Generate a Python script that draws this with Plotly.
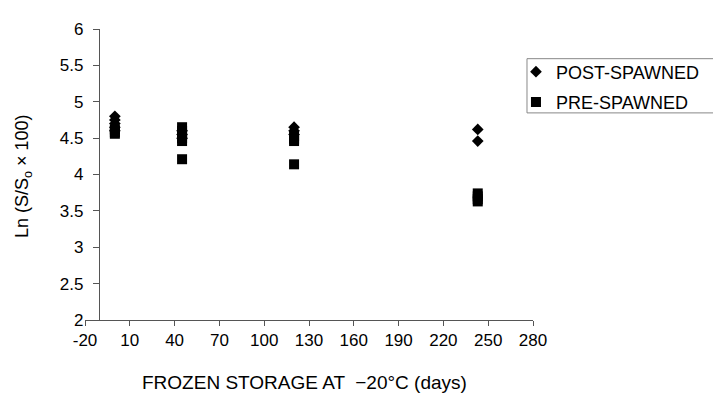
import plotly.graph_objects as go

# Data
post_days = [0, 0, 0, 0, 0, 45, 45, 45, 120, 120, 120, 243, 243]
post_vals = [4.80, 4.75, 4.70, 4.65, 4.60, 4.60, 4.55, 4.50, 4.65, 4.60, 4.55, 4.62, 4.46]

pre_days = [0, 0, 0, 45, 45, 45, 45, 45, 45, 120, 120, 120, 120, 243, 243, 243, 243]
pre_vals = [4.62, 4.58, 4.56, 4.65, 4.60, 4.55, 4.50, 4.46, 4.21, 4.53, 4.49, 4.46, 4.14, 3.74, 3.70, 3.66, 3.63]

x_ticks = [-20, 10, 40, 70, 100, 130, 160, 190, 220, 250, 280]
y_ticks = [2, 2.5, 3, 3.5, 4, 4.5, 5, 5.5, 6]

x_title = "FROZEN STORAGE AT  \u221220\u00b0C (days)"
y_title = "Ln (S/S<sub>o</sub> \u00d7 100)"

FONT = "Arial, Liberation Sans, Helvetica, sans-serif"
AXIS = "#555555"

fig = go.Figure()
fig.add_trace(go.Scatter(
    x=post_days, y=post_vals, mode="markers", name="POST-SPAWNED",
    marker=dict(symbol="diamond", size=9, color="black", line=dict(width=0)),
    legendgroup="a",
))
fig.add_trace(go.Scatter(
    x=pre_days, y=pre_vals, mode="markers", name="PRE-SPAWNED",
    marker=dict(symbol="square", size=10, color="black", line=dict(width=0)),
    legendgroup="b",
))

fig.update_layout(
    width=721, height=393,
    margin=dict(l=77, r=196, t=12, b=81),
    paper_bgcolor="white", plot_bgcolor="white",
    font=dict(family=FONT, color="black", size=17),
    showlegend=True,
    legend=dict(
        x=0.962, y=0.916, xanchor="left", yanchor="top",
        bgcolor="rgba(0,0,0,0)", borderwidth=0,
        font=dict(size=18, family=FONT),
        tracegroupgap=4,
        itemwidth=30,
    ),
    xaxis=dict(
        range=[-20, 280], tickvals=x_ticks, ticktext=[str(v) for v in x_ticks],
        showgrid=False, zeroline=False, showline=True, linecolor=AXIS, linewidth=1,
        ticks="outside", ticklen=5, tickcolor=AXIS, tickfont=dict(size=17),
        domain=[0, 1],
    ),
    yaxis=dict(
        range=[2, 6], tickvals=y_ticks, ticktext=[f"{v:g}" for v in y_ticks],
        showgrid=False, zeroline=False, showline=True, linecolor=AXIS, linewidth=1,
        ticks="outside", ticklen=6, tickcolor=AXIS, tickfont=dict(size=17),
        ticklabelstandoff=6,
        anchor="free", position=0.031,
    ),
    shapes=[
        # legend frame (open at the right, running off the page as in the reference)
        dict(type="rect", xref="paper", yref="paper",
             x0=0.9866, x1=1.45, y0=0.7117, y1=0.898,
             line=dict(color="#888888", width=1), fillcolor="rgba(0,0,0,0)", layer="below"),
    ],
    annotations=[
        dict(text=x_title, xref="paper", yref="paper", x=0.491, y=-0.215,
             xanchor="center", yanchor="middle", showarrow=False,
             font=dict(size=19, family=FONT, color="black")),
        dict(text=y_title, xref="paper", yref="paper", x=-0.136, y=0.495,
             xanchor="center", yanchor="middle", showarrow=False, textangle=-90,
             font=dict(size=18, family=FONT, color="black")),
    ],
)

fig.write_html("out.html")
